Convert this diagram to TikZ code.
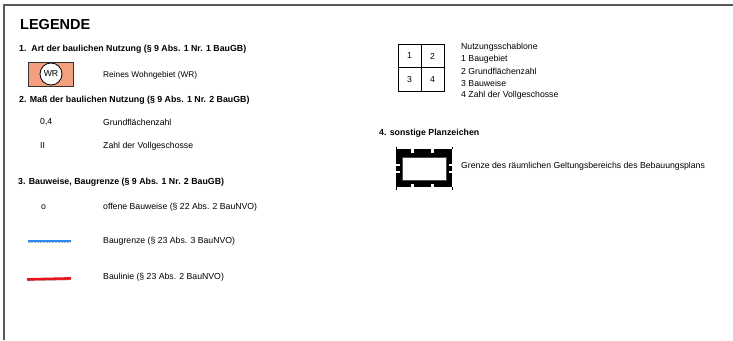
\documentclass[tikz,border=0pt]{standalone}
\usepackage{fontspec}
\setmainfont{Liberation Sans}
\begin{document}
\begin{tikzpicture}[x=1pt,y=-1pt,
  txt/.style={anchor=west,inner sep=0pt,font=\fontsize{8.7}{10}\selectfont},
  head/.style={anchor=west,inner sep=0pt,font=\fontsize{8.8}{10}\selectfont\bfseries},
  frameline/.style={draw=black!65,line width=1.5pt},
  cellbox/.style={draw=black,line width=0.8pt,minimum width=23pt,minimum height=23.5pt,inner sep=0pt,font=\fontsize{8.7}{10}\selectfont},
  markdash/.style={black!30,line width=0.45pt,dash pattern=on 2pt off 1pt},
]
\definecolor{wrfill}{HTML}{F4A080}
\definecolor{gblue}{HTML}{2A8AF0}
\definecolor{lred}{HTML}{E8141B}
\useasboundingbox (0,0) rectangle (733,340);

% outer frame (top and left edge)
\draw[frameline] (4,340) -- (4,5) -- (733,5);

% title
\node[anchor=west,inner sep=0pt,font=\fontsize{14.5}{16}\selectfont\bfseries] (title) at (20,25) {LEGENDE};

% 1. Art der baulichen Nutzung
\node[head] (h1) at (19,49) {1.\ \ Art der baulichen Nutzung (§ 9 Abs. 1 Nr. 1 BauGB)};
\node[draw=black!80,line width=0.8pt,fill=wrfill,minimum width=45pt,minimum height=24pt,inner sep=0pt] (wrbox) at (51,74) {};
\node[circle,draw=black,fill=white,line width=0.8pt,minimum size=22pt,inner sep=0pt,font=\fontsize{8.7}{10}\selectfont] (wr) at (wrbox.center) {WR};
\node[anchor=west,inner sep=0pt,font=\fontsize{8.3}{10}\selectfont] (t1) at (103,75) {Reines Wohngebiet (WR)};

% 2. Maß der baulichen Nutzung
\node[head] (h2) at (19,100) {2. Maß der baulichen Nutzung (§ 9 Abs. 1 Nr. 2 BauGB)};
\node[txt] (grz) at (40,122) {0,4};
\node[txt] (t2) at (103,122) {Grundflächenzahl};
\node[txt] (vg) at (40,146) {II};
\node[txt] (t3) at (103,146) {Zahl der Vollgeschosse};

% 3. Bauweise, Baugrenze
\node[head] (h3) at (18,182) {3. Bauweise, Baugrenze (§ 9 Abs. 1 Nr. 2 BauGB)};
\node[txt] (bw) at (41,207) {o};
\node[txt] (t4) at (103,207) {offene Bauweise (§ 22 Abs. 2 BauNVO)};

\coordinate (bgA) at (28,241);
\coordinate (bgB) at (71,241);
\draw[gblue,line width=2.6pt] (bgA) -- (bgB);
\draw[markdash] ([yshift=-1.3pt]bgA) -- ([yshift=-1.3pt]bgB);
\node[txt] (t5) at (103,241) {Baugrenze (§ 23 Abs. 3 BauNVO)};

\coordinate (blA) at (27,279.5);
\coordinate (blB) at (71,278.5);
\draw[lred,line width=2.8pt] (blA) -- (blB);
\draw[markdash] ([yshift=-1.4pt]blA) -- ([yshift=-1.4pt]blB);
\node[txt] (t6) at (103,277) {Baulinie (§ 23 Abs. 2 BauNVO)};

% Nutzungsschablone
\node[cellbox] (c1) at (409.5,56) {1};
\node[cellbox] (c2) at (432.5,56) {2};
\node[cellbox] (c3) at (409.5,79.5) {3};
\node[cellbox] (c4) at (432.5,79.5) {4};
\node[txt] (n0) at (461,47) {Nutzungsschablone};
\node[txt] (n1) at (461,59) {1 Baugebiet};
\node[txt] (n2) at (461,71) {2 Grundflächenzahl};
\node[txt] (n3) at (461,83) {3 Bauweise};
\node[txt] (n4) at (461,95.5) {4 Zahl der Vollgeschosse};

% 4. sonstige Planzeichen
\node[head] (h4) at (379,133) {4. sonstige Planzeichen};
\fill[black] (396,149) rectangle (452,187);
\fill[white] (402,157) rectangle (446,180);
\draw[black!70,line width=0.6pt] (402,157) rectangle (446,180);
% breaks in the boundary band
\foreach \xx in {411,431} {
  \fill[white] (\xx,149) rectangle (\xx+3,152.5);
  \fill[white] (\xx,183.5) rectangle (\xx+3,187);
}
\foreach \yy in {164,171} {
  \fill[white] (396,\yy) rectangle (399.5,\yy+2);
  \fill[white] (448.5,\yy) rectangle (452,\yy+2);
}
\draw[black,line width=0.4pt] (396,146.5) -- (396,149) (452,146.5) -- (452,149)
  (396,187) -- (396,189.5) (452,187) -- (452,189.5);
\node[txt] (t7) at (461,166) {Grenze des räumlichen Geltungsbereichs des Bebauungsplans};
\end{tikzpicture}
\end{document}
